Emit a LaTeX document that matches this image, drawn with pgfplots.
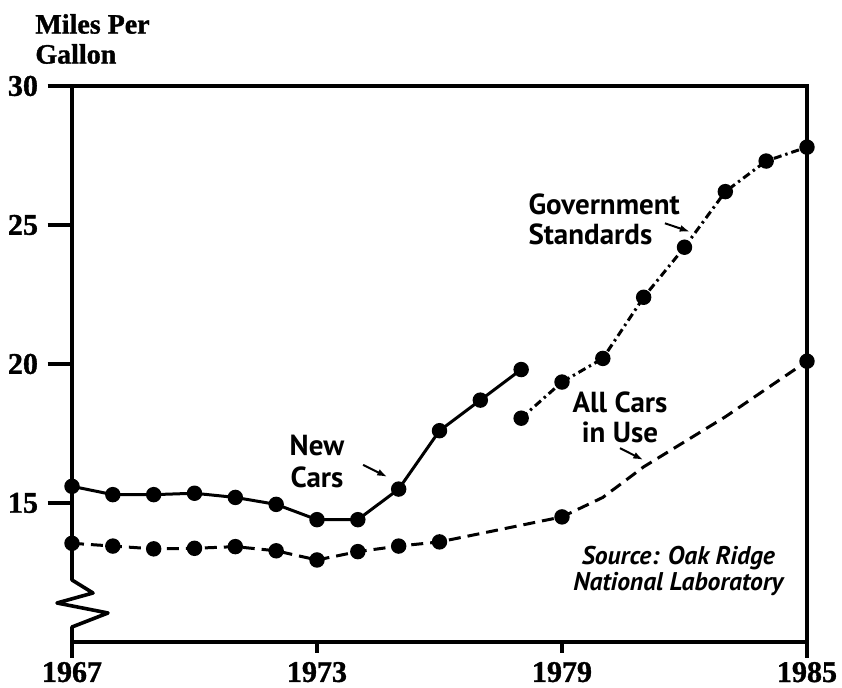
\documentclass[border=0pt]{standalone}
\usepackage{fontspec}
\setmainfont{Liberation Serif}
\newfontfamily\heavyfont[UprightFont={* Bold}, FakeBold=1.2]{Liberation Serif}
\newfontfamily\annfont{PT Sans}
\usepackage{pgfplots}
\pgfplotsset{compat=1.18}
\usetikzlibrary{arrows.meta}

\begin{document}
\begin{tikzpicture}
\begin{axis}[
  scale only axis, width=367.5pt, height=278pt,
  xmin=1967, xmax=1985, ymin=10, ymax=30,
  clip=false,
  axis line style={draw=none},
  xtick={1967,1973,1979,1985},
  xticklabels={1967,1973,1979,1985},
  ytick={15,20,25,30},
  yticklabels={15,20,25,30},
  tick pos=left,
  tick align=outside,
  major tick length=11pt,
  x tick style={draw=none},
  y tick style={line width=1.6pt, black},
  xticklabel style={font=\heavyfont\fontsize{15}{15}\selectfont, yshift=4.5pt},
  yticklabel style={font=\heavyfont\fontsize{15}{15}\selectfont, xshift=-2.5pt},
  every axis plot/.append style={line width=1.5pt, black},
  mark size=3.1pt,
]
% New cars (solid)
\addplot[black, solid, mark=*, mark options={solid}] coordinates {
  (1967,15.6) (1968,15.3) (1969,15.3) (1970,15.35) (1971,15.2) (1972,14.95)
  (1973,14.4) (1974,14.4) (1975,15.5) (1976,17.6) (1977,18.7) (1978,19.8)
};
% Government standards (dash-dot)
\addplot[black, dash pattern=on 4pt off 2pt on 1.2pt off 2pt, mark=*, mark options={solid}] coordinates {
  (1978,18.05) (1979,19.35) (1980,20.2) (1981,22.4) (1982,24.2) (1983,26.2) (1984,27.3) (1985,27.8)
};
% All cars in use (dashed line)
\addplot[black, dash pattern=on 6pt off 3.5pt, no marks] coordinates {
  (1967,13.55) (1968,13.45) (1969,13.35) (1970,13.37) (1971,13.43) (1972,13.28)
  (1973,12.95) (1974,13.25) (1975,13.45) (1976,13.6) (1979,14.5) (1980,15.2)
  (1981,16.3) (1982,17.2) (1983,18.1) (1984,19.1) (1985,20.1)
};
% All cars in use (marked points)
\addplot[black, only marks, mark=*] coordinates {
  (1967,13.55) (1968,13.45) (1969,13.35) (1970,13.37) (1971,13.43) (1972,13.28)
  (1973,12.95) (1974,13.25) (1975,13.45) (1976,13.6) (1979,14.5) (1985,20.1)
};

% y tick dashes as rule nodes
\node[anchor=east, inner sep=0pt] at ([xshift=0.5pt]axis cs:1967,15) {\rule[-0.8pt]{12.5pt}{1.6pt}};
\node[anchor=east, inner sep=0pt] at ([xshift=0.5pt]axis cs:1967,20) {\rule[-0.8pt]{12.5pt}{1.6pt}};
\node[anchor=east, inner sep=0pt] at ([xshift=0.5pt]axis cs:1967,25) {\rule[-0.8pt]{12.5pt}{1.6pt}};
\node[anchor=east, inner sep=0pt] at ([xshift=0.5pt]axis cs:1967,30) {\rule[-0.8pt]{12.5pt}{1.6pt}};

% annotations
\node[align=center, font=\annfont\bfseries\fontsize{14.5}{16}\selectfont] at (axis cs:1973.0,16.5) {New\\Cars};
\draw[line width=1pt, -{Latex[length=5pt,width=3.5pt]}] (axis cs:1974.13,16.37) -- (axis cs:1974.72,15.94);
\node[anchor=west, align=left, inner sep=0pt, font=\annfont\bfseries\fontsize{14.5}{15}\selectfont] at (axis cs:1978.17,25.22) {Government\\Standards};
\draw[line width=1pt, -{Latex[length=5pt,width=3.5pt]}] (axis cs:1981.52,25.06) -- (axis cs:1982.13,24.76);
\node[align=center, font=\annfont\bfseries\fontsize{14.5}{15}\selectfont] at (axis cs:1980.42,18.09) {All Cars\\in Use};
\draw[line width=1pt, -{Latex[length=5pt,width=3.5pt]}] (axis cs:1980.42,16.97) -- (axis cs:1980.99,16.55);
\node[align=center, font=\annfont\bfseries\itshape\fontsize{12.8}{11.5}\selectfont] at (axis cs:1981.85,12.55) {Source: Oak Ridge\\National Laboratory};
\end{axis}
% frame and axis break
\draw[line width=1.8pt] (current axis.north west) -- (current axis.north east) -- (current axis.south east) -- (current axis.south west);
\draw[line width=1.8pt, line join=round] (current axis.north west) -- ([yshift=31pt]current axis.south west)
  -- ++(10.5pt,-6.5pt) -- ++(-18pt,-5pt) -- ++(25.5pt,-5pt) -- ++(-18pt,-7pt) -- ++(0,-7.5pt) -- ++(0,-8pt);
\draw[line width=1.8pt] (current axis.south east) -- ++(0,-8pt);
\draw[line width=1.6pt] ([xshift=122.5pt]current axis.south west) -- ++(0,-5.5pt);
\draw[line width=1.6pt] ([xshift=245pt]current axis.south west) -- ++(0,-5.5pt);
% y ticks (filled bars, drawn again outside the axis)
\fill[black] ([shift={(-12pt,68.6pt)}]current axis.south west) rectangle ([shift={(1pt,70.4pt)}]current axis.south west);
\fill[black] ([shift={(-12pt,138.1pt)}]current axis.south west) rectangle ([shift={(1pt,139.9pt)}]current axis.south west);
\fill[black] ([shift={(-12pt,207.6pt)}]current axis.south west) rectangle ([shift={(1pt,209.4pt)}]current axis.south west);
\fill[black] ([shift={(-12pt,277.1pt)}]current axis.south west) rectangle ([shift={(1pt,278.9pt)}]current axis.south west);
\node[anchor=west, align=left, inner sep=0pt, font=\heavyfont\fontsize{14}{15}\selectfont]
  at ([shift={(-18.5pt,23.5pt)}]current axis.north west) {Miles Per\\Gallon};
\pgfresetboundingbox
\path[use as bounding box] ([shift={(-36pt,-23pt)}]current axis.south west) rectangle ++(421pt,344pt);
\end{tikzpicture}
\end{document}
